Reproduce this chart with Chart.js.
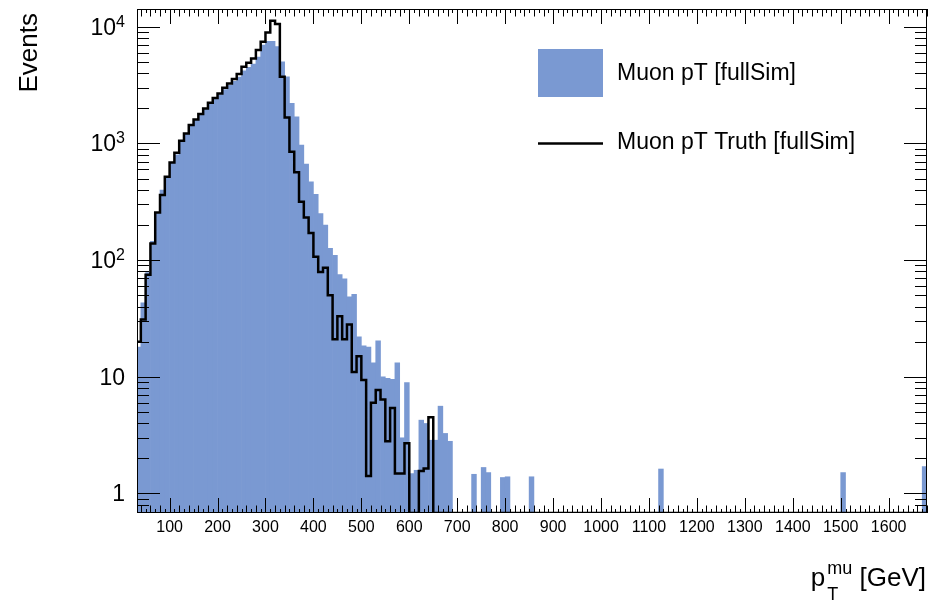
<!DOCTYPE html>
<html>
<head>
<meta charset="utf-8">
<script src="https://cdn.jsdelivr.net/npm/chart.js@4.4.1/dist/chart.umd.min.js"></script>
<style>
html, body { margin: 0; padding: 0; background: #fff; }
</style>
</head>
<body>
<canvas id="myChart" width="932" height="603"></canvas>
<script>
// histogram binning (GeV)
const binStart = 30;
const binWidth = 10;
const axisMin = 32;
const axisMax = 1680;

// Muon pT [fullSim], bins 30 .. 690 GeV
const recoCounts = [18, 43, 78, 145, 256, 398, 518, 688, 800, 1030, 1200, 1420, 1600, 1770,
    1980, 2200, 2400, 2620, 2900, 3150, 3400, 3700, 4200, 4500, 4800, 5500, 6970, 7500, 7500,
    6750, 5010, 3729, 2205, 1694, 968, 666, 469, 366, 251, 200, 126, 110, 75, 69, 48.5, 51, 22,
    18.4, 18, 13.2, 20.3, 10, 9.7, 9.5, 13.2, 3, 8.9, 1.48, 1.58, 4.25, 3.98, 2.86, 2.86, 5.6,
    3.27, 2.8];
// isolated high-pT entries (bin low edge, content)
const recoTailBins = [730, 750, 760, 790, 800, 850, 1120, 1500, 1670];
const recoTailCounts = [1.46, 1.67, 1.51, 1.37, 1.39, 1.39, 1.62, 1.51, 1.70];

// Muon pT Truth [fullSim], bins 30 .. 650 GeV (empty above)
const truthCounts = [20, 31, 75, 139, 256, 361, 518, 688, 832, 1054, 1218, 1437, 1607, 1784,
    1996, 2233, 2448, 2685, 3001, 3269, 3562, 3931, 4544, 4916, 5355, 6315, 7440, 8950, 11265,
    10550, 3729, 1671, 849, 565, 316, 232, 171, 107, 79, 86, 50, 21, 33, 21, 28, 11, 15, 9.4,
    1.41, 6.0, 7.7, 6.4, 2.8, 5.4, 1.48, 1.48, 2.7, 0, 0, 1.56, 1.64, 4.5];

const xLabels = [100, 200, 300, 400, 500, 600, 700, 800, 900, 1000, 1100, 1200, 1300, 1400, 1500, 1600];
const yDecades = [0, 1, 2, 3, 4];

const yMin = 0.68;
const yMax = 14200;
const blue = 'rgb(122, 153, 210)';
const font = '"Liberation Sans", Arial, Helvetica, sans-serif';

const nBins = (axisMax - binStart) / binWidth;
const reco = [];
const truth = [];
for (let i = 0; i < nBins; i++) {
    const lo = binStart + i * binWidth;
    let r = i < recoCounts.length ? recoCounts[i] : 0;
    const t = recoTailBins.indexOf(lo);
    if (t >= 0) r = recoTailCounts[t];
    reco.push({ x: lo + binWidth / 2, y: r > 0 ? r : null });
    const tv = i < truthCounts.length ? truthCounts[i] : 0;
    truth.push({ x: lo, y: tv > 0 ? tv : yMin });
}
truth.push({ x: axisMax, y: yMin });

const rootFrame = {
    id: 'rootFrame',
    afterDatasetsDraw(chart) {
        const { ctx, chartArea: a, scales: { x, y } } = chart;
        ctx.save();
        ctx.strokeStyle = '#000';
        ctx.lineWidth = 1;
        ctx.beginPath();
        for (let v = binStart; v <= axisMax; v += binWidth) {
            if (v < x.min || v > x.max) continue;
            const px = Math.round(x.getPixelForValue(v)) + 0.5;
            const len = v % 100 === 0 ? 15 : (v % 20 === 0 ? 7.5 : 4);
            ctx.moveTo(px, a.bottom); ctx.lineTo(px, a.bottom - len);
            ctx.moveTo(px, a.top); ctx.lineTo(px, a.top + len);
        }
        for (let e = -1; e <= 4; e++) {
            for (let d = 1; d <= 9; d++) {
                const v = d * Math.pow(10, e);
                if (v < y.min || v > y.max) continue;
                const py = Math.round(y.getPixelForValue(v)) + 0.5;
                const len = d === 1 ? 23 : 12;
                ctx.moveTo(a.left, py); ctx.lineTo(a.left + len, py);
                ctx.moveTo(a.right, py); ctx.lineTo(a.right - len, py);
            }
        }
        ctx.stroke();
        ctx.strokeRect(a.left + 0.5, a.top + 0.5, a.right - a.left - 1, a.bottom - a.top - 1);

        ctx.fillStyle = '#000';
        // x tick labels
        ctx.font = '16px ' + font;
        ctx.textAlign = 'center';
        ctx.textBaseline = 'alphabetic';
        xLabels.forEach(v => {
            ctx.fillText(String(v), x.getPixelForValue(v), 532);
        });
        // y tick labels
        const right = 125;
        yDecades.forEach(e => {
            const py = y.getPixelForValue(Math.pow(10, e));
            ctx.textAlign = 'right';
            if (e <= 1) {
                ctx.font = '23px ' + font;
                ctx.fillText(e === 0 ? '1' : '10', right, py + 8);
            } else {
                ctx.font = '16px ' + font;
                const sup = String(e);
                const sw = ctx.measureText(sup).width;
                ctx.fillText(sup, right, py);
                ctx.font = '23px ' + font;
                ctx.fillText('10', right - sw, py + 8);
            }
        });

        // axis titles
        ctx.font = '26px ' + font;
        ctx.save();
        ctx.translate(36.5, 13);
        ctx.rotate(-Math.PI / 2);
        ctx.textAlign = 'right';
        ctx.fillText('Events', 0, 0);
        ctx.restore();

        ctx.textAlign = 'left';
        ctx.font = '26px ' + font;
        const tail = ' [GeV]';
        const pW = ctx.measureText('p').width;
        const tailW = ctx.measureText(tail).width;
        ctx.font = '18px ' + font;
        const muW = ctx.measureText('mu').width;
        const xEnd = 926;
        const x0 = xEnd - tailW - muW - pW - 2;
        ctx.font = '26px ' + font;
        ctx.fillText('p', x0, 586);
        ctx.fillText(tail, x0 + pW + 2 + muW, 586);
        ctx.font = '18px ' + font;
        ctx.fillText('mu', x0 + pW + 2, 574);
        ctx.fillText('T', x0 + pW + 2, 600);

        // legend
        ctx.fillStyle = blue;
        ctx.fillRect(538, 49, 65, 48);
        ctx.strokeStyle = '#000';
        ctx.lineWidth = 2.5;
        ctx.beginPath();
        ctx.moveTo(538, 143.5);
        ctx.lineTo(603, 143.5);
        ctx.stroke();
        ctx.fillStyle = '#000';
        ctx.font = '23px ' + font;
        ctx.fillText('Muon pT [fullSim]', 617, 80);
        ctx.fillText('Muon pT Truth [fullSim]', 617, 149);
        ctx.restore();
    }
};

const ctx = document.getElementById('myChart').getContext('2d');
const chart = new Chart(ctx, {
    type: 'bar',
    data: {
        datasets: [
            {
                type: 'line',
                label: 'Muon pT Truth [fullSim]',
                data: truth,
                stepped: true,
                borderColor: '#000',
                borderWidth: 2.5,
                borderJoinStyle: 'miter',
                pointRadius: 0,
                fill: false,
                tension: 0,
                order: 0
            },
            {
                label: 'Muon pT [fullSim]',
                data: reco,
                backgroundColor: blue,
                borderWidth: 0,
                barPercentage: 1,
                categoryPercentage: 1,
                grouped: false,
                order: 1
            }
        ]
    },
    options: {
        responsive: false,
        animation: false,
        devicePixelRatio: 1,
        layout: { padding: { left: 137, right: 5, top: 9, bottom: 90 } },
        plugins: {
            legend: { display: false },
            tooltip: { enabled: false }
        },
        scales: {
            x: { type: 'linear', display: false, min: axisMin, max: axisMax, offset: false, bounds: 'data' },
            y: { type: 'logarithmic', display: false, min: yMin, max: yMax, bounds: 'data' }
        }
    },
    plugins: [rootFrame]
});
</script>
</body>
</html>
